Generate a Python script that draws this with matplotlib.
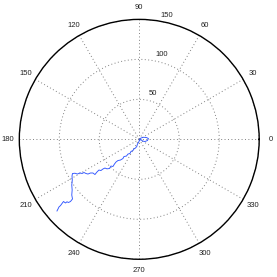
import numpy as np
import matplotlib
matplotlib.use("Agg")
import matplotlib.pyplot as plt

# Random-walk trace (cartesian data units)
walk_x = [0.0, 2.1, 5.25, 9.0, 11.5, 10.25, 7.1, 4.0, 2.1, 0.25, -1.0, -2.25, -3.1, -4.75,
          -6.6, -7.9, -10.4, -11.6, -14.1, -16.0, -19.1, -20.4, -23.5, -26.6, -29.1, -31.0,
          -32.9, -35.4, -37.25, -40.4, -42.9, -45.4, -47.9, -50.4, -52.9, -55.4, -57.9, -61.0,
          -64.1, -66.6, -69.1, -71.6, -74.1, -77.25, -80.4, -83.5, -84.1, -83.75, -84.4, -83.9,
          -84.4, -83.5, -86.0, -88.5, -90.4, -92.25, -94.75, -96.6, -98.4, -100.4, -101.6, -102.9]
walk_y = [0.0, 1.6, 2.6, 2.25, 1.0, -1.5, -2.75, -2.1, -0.25, -1.5, -4.0, -5.9, -9.0, -10.9,
          -11.9, -14.0, -15.25, -17.75, -18.4, -20.9, -21.5, -24.0, -25.9, -26.5, -28.4, -30.9,
          -34.0, -33.4, -36.5, -36.9, -35.9, -37.1, -39.0, -38.4, -40.9, -44.0, -42.1, -42.1,
          -43.4, -42.75, -41.5, -42.75, -41.9, -43.4, -42.4, -42.75, -45.9, -50.9, -57.1, -63.4,
          -69.6, -74.6, -77.75, -79.0, -78.1, -79.6, -77.75, -80.25, -82.75, -84.6, -87.1, -89.6]

r_ticks = [50, 100, 150]
theta_ticks = [0, 30, 60, 90, 120, 150, 180, 210, 240, 270, 300, 330]
r_max = 150

wx = np.array(walk_x)
wy = np.array(walk_y)
theta = np.arctan2(wy, wx)
rho = np.hypot(wx, wy)

fig = plt.figure(figsize=(2.77, 2.77), dpi=100)
ax = fig.add_axes([0.0697, 0.064, 0.866, 0.866], projection="polar")
ax.plot(theta, rho, color="#2f55ff", lw=0.65)
ax.set_rlim(0, r_max)
ax.set_rticks(r_ticks)
ax.set_thetagrids(theta_ticks)
ax.set_xticklabels([])
ax.set_yticklabels([])
ax.tick_params(length=0)
ax.grid(True, color="0.5", linestyle=(0, (1, 2.5)), linewidth=0.7)
ax.spines["polar"].set_color("black")
ax.spines["polar"].set_linewidth(1.0)

font = dict(family=["Liberation Sans", "DejaVu Sans"], fontsize=5.5, color="#222222")
for t in theta_ticks:
    ax.text(np.deg2rad(t), r_max * 1.096, str(t), ha="center", va="center",
            clip_on=False, **font)

rlab_pos = [(73.0, 60.0), (75.2, 109.9), (77.6, 159.0)]
for rv, (ang, rr) in zip(r_ticks, rlab_pos):
    ax.text(np.deg2rad(ang), rr, str(rv), ha="center", va="center", clip_on=False, **font)

fig.savefig("out.png", dpi=100)
